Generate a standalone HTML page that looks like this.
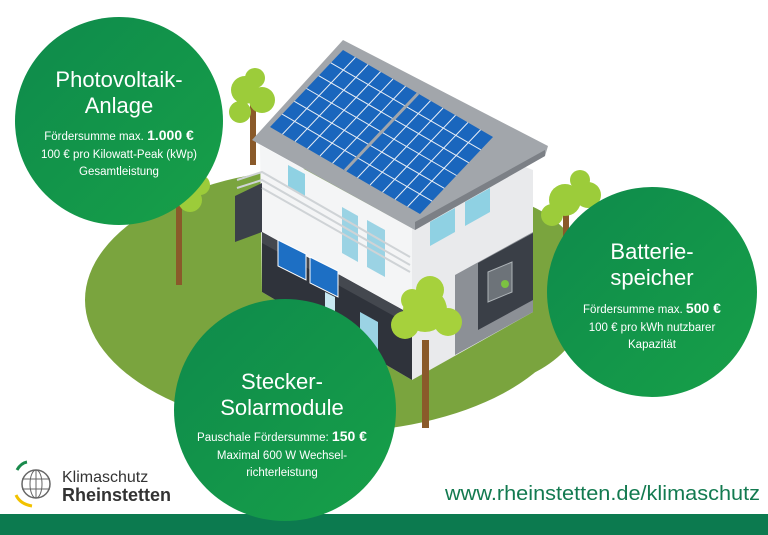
<!DOCTYPE html>
<html><head><meta charset="utf-8"><style>
html,body{margin:0;padding:0;background:#fff;}
svg{display:block;font-family:"Liberation Sans","DejaVu Sans",sans-serif;}
</style></head><body>
<svg width="768" height="535" viewBox="0 0 768 535" xmlns="http://www.w3.org/2000/svg">
<defs>
<linearGradient id="cg" x1="0" y1="0" x2="1" y2="1">
<stop offset="0" stop-color="#0e8a4c"/><stop offset="1" stop-color="#17a048"/>
</linearGradient>
</defs>
<rect width="768" height="535" fill="#fff"/>
<ellipse cx="330" cy="300" rx="245" ry="132" fill="#7aa43e"/>
<ellipse cx="480" cy="290" rx="110" ry="95" fill="#7aa43e"/>
<rect x="250" y="95" width="6" height="70" fill="#8a5a2a"/>
<g fill="#9ccc3a"><circle cx="245" cy="90" r="14"/><circle cx="262" cy="100" r="13"/><circle cx="240" cy="112" r="11"/><circle cx="255" cy="78" r="10"/></g>
<rect x="176" y="180" width="6" height="105" fill="#8a5a2a"/>
<g fill="#9ccc3a"><circle cx="190" cy="200" r="12"/><circle cx="200" cy="185" r="10"/><circle cx="172" cy="200" r="8"/></g>
<rect x="563" y="215" width="6" height="30" fill="#8a5a2a"/>
<g fill="#9ccc3a"><circle cx="565" cy="200" r="16"/><circle cx="588" cy="195" r="13"/><circle cx="552" cy="215" r="11"/><circle cx="580" cy="180" r="10"/></g>
<polygon points="412,228 520,165 533,170 533,312 412,380" fill="#e9eaec"/>
<polygon points="455,275 533,232 533,312 455,355" fill="#8c9096"/>
<polygon points="478,263 533,233 533,300 478,330" fill="#3a3f47"/>
<polygon points="488,272 512,262 512,292 488,302" fill="#6d7379" stroke="#aeb4b8"/>
<circle cx="505" cy="284" r="4" fill="#7cc242"/>
<polygon points="430,222 455,208 455,232 430,246" fill="#8fd1e3"/>
<polygon points="465,202 490,188 490,212 465,226" fill="#8fd1e3"/>
<polygon points="260,145 412,228 412,380 262,292" fill="#f4f5f6"/>
<polygon points="262,232 412,315 412,380 262,292" fill="#2f333b"/>
<polygon points="288,165 305,174 305,196 288,187" fill="#8fd1e3"/>
<polygon points="342,207 358,216 358,262 342,253" fill="#9bd3e4"/>
<polygon points="367,220 385,230 385,277 367,267" fill="#9bd3e4"/>
<polygon points="325,292 335,297 335,340 325,335" fill="#c9e8f1"/>
<polygon points="360,312 378,322 378,360 360,350" fill="#9bd3e4"/>
<polygon points="235,196 262,183 262,232 235,242" fill="#3b4049"/>
<polygon points="262,232 412,315 412,326 262,243" fill="#44484f"/>
<polyline points="237,180 262,172 410,257" fill="none" stroke="#cfd3d6" stroke-width="2"/>
<polyline points="237,188 262,180 410,265" fill="none" stroke="#cfd3d6" stroke-width="2"/>
<polyline points="262,188 410,272" fill="none" stroke="#cfd3d6" stroke-width="2"/>
<polygon points="278,240 306,254 306,280 278,266" fill="#1d6fc4" stroke="#fff"/>
<polygon points="310,257 338,271 338,297 310,283" fill="#1d6fc4" stroke="#fff"/>
<polygon points="343,40 548,146 545,156 415,230 252,140" fill="#a2a6ab"/>
<polygon points="415,222 545,150 545,156 415,230" fill="#7c8086"/>
<g transform="matrix(150,87,-73,77,343,50)">
<rect width="1" height="1" fill="#1a66bd"/>
<path d="M0.083 0V1M0.167 0V1M0.25 0V1M0.333 0V1M0.417 0V1M0.583 0V1M0.667 0V1M0.75 0V1M0.833 0V1M0.917 0V1M0 0.167H1M0 0.333H1M0 0.5H1M0 0.667H1M0 0.833H1" stroke="#e8eef6" stroke-width="1" fill="none" vector-effect="non-scaling-stroke"/>
<path d="M0.5 0V1" stroke="#a2a6ab" stroke-width="3" vector-effect="non-scaling-stroke"/>
</g>
<rect x="422" y="340" width="7" height="88" fill="#8a5a2a"/>
<g fill="#a6d13c"><circle cx="425" cy="310" r="22"/><circle cx="405" cy="325" r="14"/><circle cx="448" cy="322" r="14"/><circle cx="430" cy="290" r="14"/><circle cx="412" cy="300" r="11"/></g>
<rect x="0" y="514" width="768" height="21" fill="#0c7a4f"/>
<circle cx="119" cy="121" r="104" fill="url(#cg)"/>
<circle cx="652" cy="292" r="105" fill="url(#cg)"/>
<circle cx="285" cy="410" r="111" fill="url(#cg)"/>
<g fill="#fff" text-anchor="middle">
<text x="119" y="87" font-size="22">Photovoltaik-</text>
<text x="119" y="113" font-size="22">Anlage</text>
<text x="119" y="140" font-size="11.5">Fördersumme max. <tspan font-weight="bold" font-size="14">1.000 €</tspan></text>
<text x="119" y="158" font-size="11.5">100 € pro Kilowatt-Peak (kWp)</text>
<text x="119" y="175" font-size="11.5">Gesamtleistung</text>
<text x="652" y="259" font-size="22">Batterie-</text>
<text x="652" y="285" font-size="22">speicher</text>
<text x="652" y="313" font-size="11.5">Fördersumme max. <tspan font-weight="bold" font-size="14">500 €</tspan></text>
<text x="652" y="331" font-size="11.5">100 € pro kWh nutzbarer</text>
<text x="652" y="348" font-size="11.5">Kapazität</text>
<text x="282" y="389" font-size="22">Stecker-</text>
<text x="282" y="415" font-size="22">Solarmodule</text>
<text x="282" y="441" font-size="11.5">Pauschale Fördersumme: <tspan font-weight="bold" font-size="14">150 €</tspan></text>
<text x="282" y="459" font-size="11.5">Maximal 600 W Wechsel-</text>
<text x="282" y="476" font-size="11.5">richterleistung</text>
</g>
<circle cx="36" cy="484" r="14" fill="none" stroke="#666" stroke-width="1.5"/>
<ellipse cx="36" cy="484" rx="6" ry="14" fill="none" stroke="#666"/>
<path d="M22 479H50M22 489H50M36 470V498" stroke="#666"/>
<path d="M17 470 Q21 463 27 462" stroke="#1a8a4c" stroke-width="3" fill="none"/>
<path d="M16 495 Q20 504 32 506" stroke="#f2c200" stroke-width="3" fill="none"/>
<text x="62" y="482" font-size="16" fill="#333">Klimaschutz</text>
<text x="62" y="501" font-size="18" font-weight="bold" fill="#333">Rheinstetten</text>
<text x="445" y="500" font-size="20" fill="#137a50" textLength="315" lengthAdjust="spacingAndGlyphs">www.rheinstetten.de/klimaschutz</text>
</svg>
</body></html>
